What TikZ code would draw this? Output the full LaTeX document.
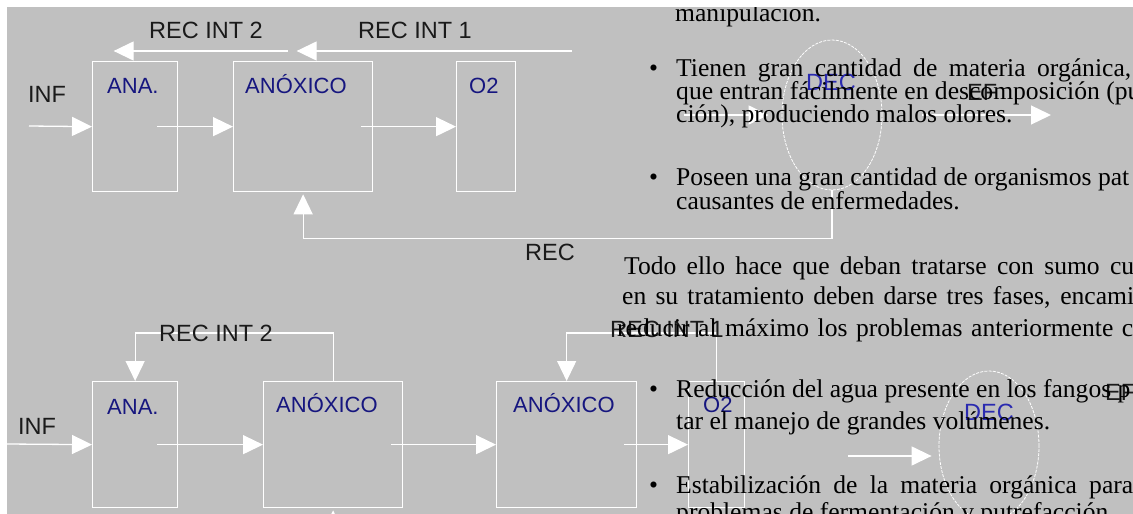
\documentclass[tikz,border=0pt]{standalone}
\usepackage{fontspec}
\setmainfont{Liberation Serif}
\newfontfamily\diagfont{Liberation Sans}
\usetikzlibrary{arrows.meta,positioning,shapes.geometric}
\definecolor{panelgray}{HTML}{C0C0C0}
\definecolor{tanklabel}{HTML}{16167F}
\definecolor{declabel}{HTML}{2A2AB0}
\definecolor{flowtext}{HTML}{1A1A1A}

\begin{document}
\begin{tikzpicture}[
  x=1pt, y=-1pt,
  tank/.style={draw=white, line width=1.3pt, anchor=north west, inner sep=0pt},
  settler/.style={ellipse, draw=white, line width=0.8pt, dash pattern=on 3pt off 1.2pt, minimum width=100pt, minimum height=150pt, inner sep=0pt},
  tanktext/.style={anchor=base west, inner sep=0pt, text=tanklabel, font=\diagfont\fontsize{22}{24}\selectfont},
  flowlabel/.style={anchor=base, inner sep=0pt, text=flowtext, font=\diagfont\fontsize{23.5}{26}\selectfont},
  body/.style={anchor=base west, inner sep=0pt, font=\fontsize{25.6}{28}\selectfont},
  arr/.style={draw=white, line width=1.3pt, -{Triangle[length=20pt,width=19pt]}}
]
\clip (0,0) rectangle (1133,514);
\fill[panelgray] (7,7) rectangle (1133,514);

% upper plant
\node[tank, minimum width=85pt, minimum height=130pt] (anaA) at (92,61) {};
\node[tank, minimum width=139pt, minimum height=130pt] (anoxA) at (233,61) {};
\node[tank, minimum width=59pt, minimum height=130pt] (oxA) at (456,61) {};
\node[settler] (decA) at (832,115) {};
\node[tanktext] at ([shift={(15pt,-32pt)}]anaA.north west) {ANA.};
\node[tanktext] at ([shift={(12pt,-32pt)}]anoxA.north west) {ANÓXICO};
\node[tanktext] at ([shift={(13pt,-32pt)}]oxA.north west) {O2};
\node[flowlabel, text=declabel] (decAlab) at (831,90) {DEC};

\coordinate (infA) at (29,126);
\coordinate (r2Afrom) at (288,51);
\coordinate (r1Afrom) at (572,51);
\coordinate (decAin) at (684,115);
\coordinate (efA) at (1051,115);
\draw[arr] (infA) -- (anaA.west);
\draw[arr] ([xshift=-21pt]anaA.east) -- (anoxA.west);
\draw[arr] ([xshift=-12pt]anoxA.east) -- (oxA.west);
\draw[arr] (r1Afrom) -- ([shift={(-6.5pt,10pt)}]anoxA.north);
\draw[arr] (r2Afrom) -- ([shift={(-21.5pt,10pt)}]anaA.north);
\draw[arr] (decAin) -- ([xshift=-13pt]decA.west);
\draw[arr] ([xshift=40pt]decA.east) -- (efA);
\draw[arr] (decA.south) -- ++(0,48) -| ([yshift=-2pt]anoxA.south);

\node[flowlabel] (r2Alab) at (206,38) {REC INT 2};
\node[flowlabel] (r1Alab) at (415,38) {REC INT 1};
\node[flowlabel, anchor=base west] (infAlab) at (28,102) {INF};
\node[flowlabel, anchor=base west] (recAlab) at (525,260) {REC};
\node[flowlabel, anchor=base west] (efAlab) at (967,100) {EF};

% lower plant
\node[tank, minimum width=85pt, minimum height=126pt] (anaB) at (92,381) {};
\node[tank, minimum width=139pt, minimum height=126pt] (anoxB) at (263,381) {};
\node[tank, minimum width=140pt, minimum height=126pt] (anoxC) at (496,381) {};
\node[tank, minimum width=56pt, minimum height=126pt] (oxB) at (688,381) {};
\node[settler] (decB) at (989,446) {};
\node[tanktext] at ([shift={(15pt,-33pt)}]anaB.north west) {ANA.};
\node[tanktext] at ([shift={(13pt,-31pt)}]anoxB.north west) {ANÓXICO};
\node[tanktext] at ([shift={(17pt,-31pt)}]anoxC.north west) {ANÓXICO};
\node[tanktext] at ([shift={(15pt,-31pt)}]oxB.north west) {O2};
\node[flowlabel, text=declabel] (decBlab) at (989,420) {DEC};

\coordinate (infB) at (7,444);
\coordinate (decBin) at (848,456);
\coordinate (recB) at (332.5,540);
\draw[arr] (infB) -- (anaB.west);
\draw[arr] ([xshift=-21pt]anaB.east) -- (anoxB.west);
\draw[arr] ([xshift=-12pt]anoxB.east) -- (anoxC.west);
\draw[arr] ([xshift=-13pt]anoxC.east) -- (oxB.west);
\draw[arr] (anoxB.north) -- ++(0,-48) -| (anaB.north);
\draw[arr] (oxB.north) -- ++(0,-48) -| (anoxC.north);
\draw[arr] (recB) -- ([yshift=-2pt]anoxB.south);
\draw[arr] (decBin) -- ([shift={(-7pt,-10pt)}]decB.west);

\node[flowlabel] (r2Blab) at (216,341) {REC INT 2};
\node[flowlabel] (r1Blab) at (667,337) {REC INT 1};
\node[flowlabel, anchor=base west] (infBlab) at (18,434) {INF};
\node[flowlabel, anchor=base west] (efBlab) at (1105,400) {EF};

% page text showing through
\node[body] (manip) at (675,21) {manipulación.};
\node[body] (bul1) at (649,76) {\textbullet};
\node[body] (l1) at (676,76) {\makebox[455pt][s]{Tienen gran cantidad de materia orgánica,}};
\node[body] (l2) at (676,99) {que entran fácilmente en descomposición (pu};
\node[body] (l3) at (676,122) {ción), produciendo malos olores.};
\node[body] (bul2) at (649,185) {\textbullet};
\node[body] (l4) at (676,185) {Poseen una gran cantidad de organismos pat};
\node[body] (l5) at (676,209) {causantes de enfermedades.};
\node[body] (l6) at (624,274) {\makebox[510pt][s]{Todo ello hace que deban tratarse con sumo cu}};
\node[body] (l7) at (622,304) {\makebox[512pt][s]{en su tratamiento deben darse tres fases, encami}};
\node[body] (l8) at (617,336) {\makebox[516pt][s]{reducir al máximo los problemas anteriormente c}};
\node[body] (bul3) at (649,397) {\textbullet};
\node[body] (l9) at (676,397) {Reducción del agua presente en los fangos p};
\node[body] (l10) at (676,429) {tar el manejo de grandes volúmenes.};
\node[body] (bul4) at (649,493) {\textbullet};
\node[body] (l11) at (676,493) {\makebox[457pt][s]{Estabilización de la materia orgánica para}};
\node[body] (l12) at (676,520) {problemas de fermentación y putrefacción.};

\fill[white] (0,0) rectangle (1133,7);
\fill[white] (0,0) rectangle (7,514);
\end{tikzpicture}
\end{document}
